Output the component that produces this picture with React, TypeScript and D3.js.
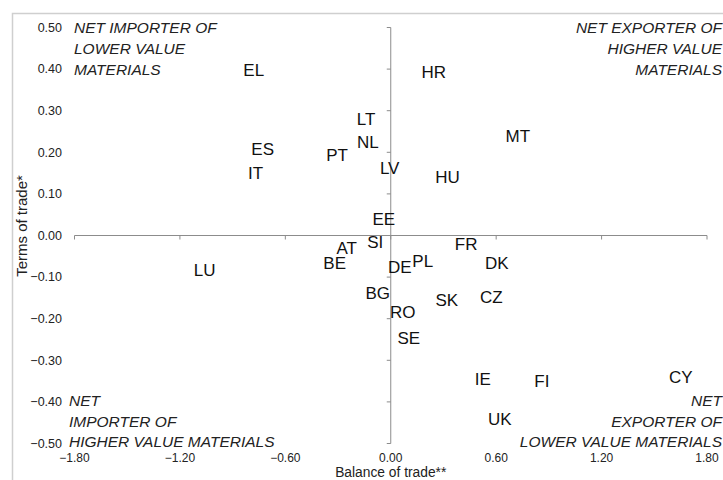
import React from 'react';
import * as d3 from 'd3';

const countries = ['EL', 'HR', 'LT', 'NL', 'MT', 'ES', 'PT', 'IT', 'LV', 'HU', 'EE', 'SI', 'FR', 'AT', 'LU', 'BE', 'DE', 'PL', 'DK', 'BG', 'CZ', 'SK', 'RO', 'SE', 'IE', 'FI', 'CY', 'UK'];
const balance = [-0.78, 0.245, -0.14, -0.13, 0.723, -0.729, -0.305, -0.769, -0.006, 0.323, -0.04, -0.088, 0.429, -0.251, -1.059, -0.319, 0.051, 0.182, 0.604, -0.074, 0.572, 0.319, 0.068, 0.103, 0.524, 0.86, 1.651, 0.621];
const terms = [0.398, 0.394, 0.279, 0.225, 0.24, 0.207, 0.194, 0.151, 0.163, 0.14, 0.04, -0.016, -0.02, -0.03, -0.082, -0.066, -0.076, -0.061, -0.066, -0.138, -0.149, -0.156, -0.185, -0.246, -0.344, -0.351, -0.341, -0.442];

const xTicks = [-1.8, -1.2, -0.6, 0, 0.6, 1.2, 1.8];
const yTicks = [0.5, 0.4, 0.3, 0.2, 0.1, 0, -0.1, -0.2, -0.3, -0.4, -0.5];

// quadrant notes, each line sits at a half-tick step
const quadrants = [
  { lines: ['NET IMPORTER OF', 'LOWER VALUE', 'MATERIALS'], side: 'left', top: true },
  { lines: ['NET EXPORTER OF', 'HIGHER VALUE', 'MATERIALS'], side: 'right', top: true },
  { lines: ['NET', 'IMPORTER OF', 'HIGHER VALUE MATERIALS'], side: 'left', top: false },
  { lines: ['NET', 'EXPORTER OF', 'LOWER VALUE MATERIALS'], side: 'right', top: false },
];

export default function App() {
  const width = 723;
  const height = 480;
  const x = d3.scaleLinear().domain([-1.8, 1.8]).range([74.5, 707]);
  const y = d3.scaleLinear().domain([-0.5, 0.5]).range([443.5, 27.5]);
  const axisColor = '#8c8c8c';
  const font = 'Arial, "Liberation Sans", sans-serif';
  const fmt = d3.format('.2f');

  return (
    <svg width={width} height={height} style={{ position: 'absolute', left: 0, top: 0, background: '#fff' }} fontFamily={font}>
      <path d={`M12.5,${height} V13.5 H${width}`} fill="none" stroke="#cfcfcf" strokeWidth={1.5} />

      {/* axes crossing at zero */}
      <line x1={x(-1.8)} x2={x(1.8)} y1={y(0)} y2={y(0)} stroke={axisColor} />
      <line x1={x(0)} x2={x(0)} y1={y(0.5)} y2={y(-0.5)} stroke={axisColor} />
      {xTicks.map((t) => (
        <line key={'xt' + t} x1={x(t)} x2={x(t)} y1={y(0)} y2={y(0) + 4} stroke={axisColor} />
      ))}
      {yTicks.map((t) => (
        <line key={'yt' + t} x1={x(0) - 4} x2={x(0)} y1={y(t)} y2={y(t)} stroke={axisColor} />
      ))}

      {/* tick labels at the low side */}
      {yTicks.map((t) => (
        <text key={'yl' + t} x={62} y={y(t)} dy="0.35em" textAnchor="end" fontSize={12.5} fill="#222">
          {fmt(t)}
        </text>
      ))}
      {xTicks.map((t) => (
        <text key={'xl' + t} x={x(t)} y={457.5} dy="0.35em" textAnchor="middle" fontSize={12} fill="#222">
          {fmt(t)}
        </text>
      ))}

      <text x={x(0)} y={477} textAnchor="middle" fontSize={13.8} fill="#222">
        Balance of trade**
      </text>
      <text transform={`translate(22,226) rotate(-90)`} dy="0.35em" textAnchor="middle" fontSize={15} fill="#222">
        Terms of trade*
      </text>

      {quadrants.map((q, i) => (
        <text
          key={'q' + i}
          fontSize={15.5}
          fontStyle="italic"
          fill="#222"
          textAnchor={q.side === 'left' ? 'start' : 'end'}
        >
          {q.lines.map((l, j) => (
            <tspan
              key={j}
              x={q.side === 'left' ? (q.top ? 74 : 69) : 722}
              y={q.top ? y(0.5 - j * 0.05) : y(-0.4 - j * 0.05) - 1.5}
              dy="0.35em"
            >
              {l}
            </tspan>
          ))}
        </text>
      ))}

      {countries.map((c, i) => (
        <text key={c} x={x(balance[i])} y={y(terms[i])} dy="0.35em" textAnchor="middle" fontSize={17} fill="#111">
          {c}
        </text>
      ))}
    </svg>
  );
}
